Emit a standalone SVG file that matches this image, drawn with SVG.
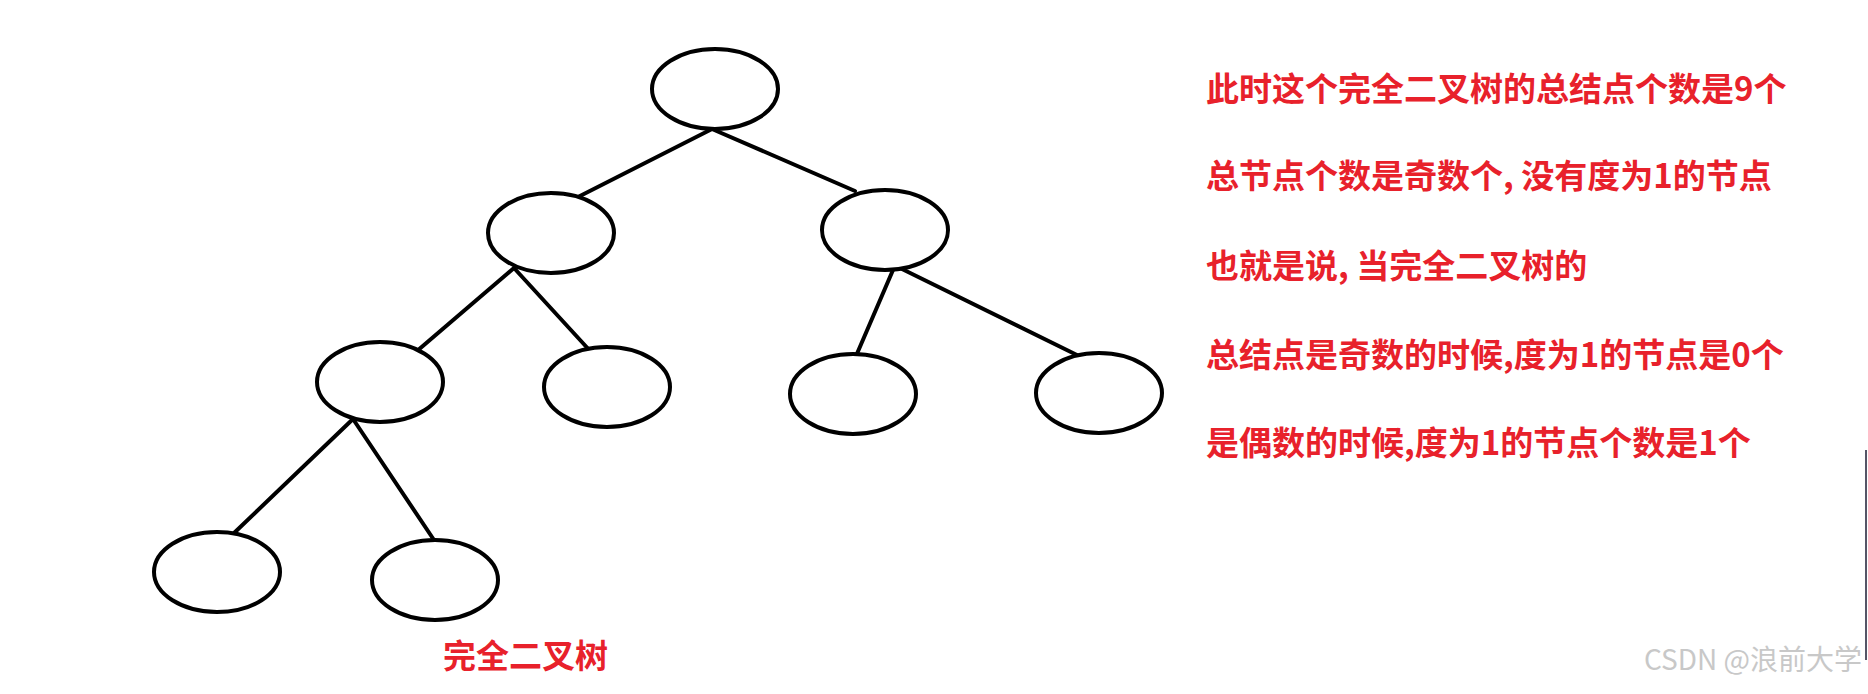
<svg xmlns="http://www.w3.org/2000/svg" width="1868" height="694" viewBox="0 0 1868 694">
<style>
.n{fill:#fff;stroke:#000;stroke-width:4}
.e{stroke:#000;stroke-width:4;stroke-linecap:round}
.t{font-family:"Noto Sans CJK SC","Noto Sans",sans-serif;font-weight:bold;fill:#e8212b;font-size:33px}
</style>
<rect width="1868" height="694" fill="#fff"/>
<g id="edges">
<line class="e" x1="712" y1="129" x2="578" y2="197"/>
<line class="e" x1="712" y1="129" x2="855" y2="191"/>
<line class="e" x1="514" y1="268" x2="417" y2="351"/>
<line class="e" x1="514" y1="268" x2="592" y2="353"/>
<line class="e" x1="893" y1="270" x2="853" y2="363"/>
<line class="e" x1="902" y1="269" x2="1081" y2="357"/>
<line class="e" x1="353" y1="419" x2="233" y2="534"/>
<line class="e" x1="353" y1="419" x2="434" y2="540"/>
</g>
<g id="n1"><ellipse class="n" cx="715" cy="89" rx="63" ry="40"/></g>
<g id="n2"><ellipse class="n" cx="551" cy="233" rx="63" ry="40"/></g>
<g id="n3"><ellipse class="n" cx="885" cy="230" rx="63" ry="40"/></g>
<g id="n4"><ellipse class="n" cx="380" cy="382" rx="63" ry="40"/></g>
<g id="n5"><ellipse class="n" cx="607" cy="387" rx="63" ry="40"/></g>
<g id="n6"><ellipse class="n" cx="853" cy="394" rx="63" ry="40"/></g>
<g id="n7"><ellipse class="n" cx="1099" cy="393" rx="63" ry="40"/></g>
<g id="n8"><ellipse class="n" cx="217" cy="572" rx="63" ry="40"/></g>
<g id="n9"><ellipse class="n" cx="435" cy="580" rx="63" ry="40"/></g>
<text class="t" x="443" y="668">完全二叉树</text>
<g id="notes">
<text class="t" x="1206" y="101">此时这个完全二叉树的总结点个数是9个</text>
<text class="t" x="1206" y="188">总节点个数是奇数个, 没有度为1的节点</text>
<text class="t" x="1206" y="278">也就是说, 当完全二叉树的</text>
<text class="t" x="1206" y="367">总结点是奇数的时候,度为1的节点是0个</text>
<text class="t" x="1206" y="455">是偶数的时候,度为1的节点个数是1个</text>
</g>
<line x1="1866" y1="450" x2="1866" y2="660" stroke="#556" stroke-width="2"/>
<text x="1862" y="670" text-anchor="end" font-family="'Noto Sans CJK SC','Noto Sans',sans-serif" font-size="28" fill="#c8c8c8">CSDN @浪前大学</text>
</svg>
